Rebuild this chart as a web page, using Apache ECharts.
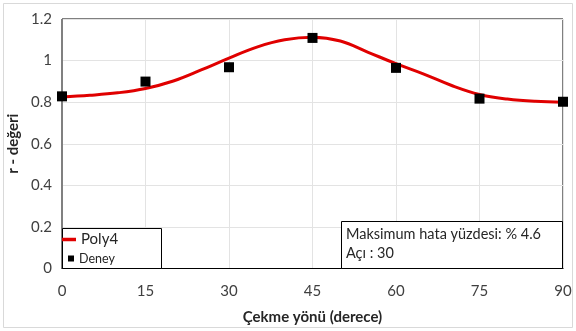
<!DOCTYPE html>
<html>
<head>
<meta charset="utf-8">
<script src="https://cdn.jsdelivr.net/npm/echarts@6/dist/echarts.min.js"></script>
<style>
  html, body { margin: 0; padding: 0; background: #fff; }
  #chart { width: 576px; height: 331px; }
</style>
</head>
<body>
<div id="chart"></div>
<script>
// Measured r-values for each pulling direction (degrees)
const angles = [0, 15, 30, 45, 60, 75, 90];
const deneyValues = [0.828, 0.899, 0.968, 1.109, 0.965, 0.817, 0.802];

// 4th-order fitted curve, sampled every 5 degrees
const fitAngles = [0, 5, 10, 15, 20, 25, 30, 35, 40, 45, 50, 55, 60, 65, 70, 75, 80, 85, 90];
const fitValues = [0.825, 0.833, 0.845, 0.866, 0.902, 0.955, 1.012, 1.065, 1.100, 1.112,
                   1.094, 1.040, 0.985, 0.935, 0.880, 0.837, 0.815, 0.804, 0.800];

const xTicks = { min: 0, max: 90, interval: 15 };
const yTicks = { min: 0, max: 1.2, interval: 0.2 };

const annotationLines = ['Maksimum hata yüzdesi: % 4.6', 'Açı : 30'];

const FONT = 'Lato, "Open Sans", sans-serif';

const chart = echarts.init(document.getElementById('chart'), null, { renderer: 'canvas' });

chart.setOption({
  animation: false,
  backgroundColor: '#ffffff',
  grid: {
    left: 62, right: 13, top: 19, bottom: 62.5,
    containLabel: false, outerBoundsMode: 'none',
    show: true, borderColor: '#000', borderWidth: 1, backgroundColor: 'transparent'
  },
  xAxis: {
    type: 'value',
    min: xTicks.min, max: xTicks.max, interval: xTicks.interval,
    name: 'Çekme yönü (derece)',
    nameLocation: 'middle',
    nameGap: 41,
    nameTextStyle: { fontFamily: FONT, fontSize: 15, fontWeight: 'bold', color: '#262626' },
    axisLine: { show: true, lineStyle: { color: '#000', width: 1 } },
    axisTick: { show: false },
    axisLabel: { fontFamily: FONT, fontSize: 15, color: '#404040', margin: 15 },
    splitLine: { show: true, lineStyle: { color: '#e3e3e3', width: 1 } }
  },
  yAxis: {
    type: 'value',
    min: yTicks.min, max: yTicks.max, interval: yTicks.interval,
    name: 'r - değeri',
    nameLocation: 'middle',
    nameGap: 35,
    nameTextStyle: { fontFamily: FONT, fontSize: 15, fontWeight: 'bold', color: '#262626' },
    axisLine: { show: true, lineStyle: { color: '#808080', width: 1 } },
    axisTick: { show: false },
    axisLabel: { fontFamily: FONT, fontSize: 15, color: '#404040', margin: 10 },
    splitLine: { show: true, lineStyle: { color: '#e3e3e3', width: 1 } }
  },
  legend: [
    {
      selectedMode: false,
      data: [{ name: 'Poly4', icon: 'rect' }],
      left: 62, top: 232, padding: 0,
      itemWidth: 14, itemHeight: 3.5, itemGap: 0,
      textStyle: { fontFamily: FONT, fontSize: 15, color: '#262626' },
      z: 10
    },
    {
      selectedMode: false,
      data: [{ name: 'Deney', icon: 'rect' }],
      left: 68, top: 252, padding: 0,
      itemWidth: 6, itemHeight: 6, itemGap: 0,
      textStyle: { fontFamily: FONT, fontSize: 12.5, color: '#262626' },
      z: 10
    }
  ],
  graphic: [
    // outer frame
    { type: 'rect', shape: { x: 3.5, y: 3.5, width: 569, height: 324 },
      style: { fill: 'none', stroke: '#d9d9d9', lineWidth: 1 }, z: 1, silent: true },
    // legend frame
    { type: 'rect', shape: { x: 62.5, y: 228.5, width: 99, height: 40 },
      style: { fill: '#fff', stroke: '#000', lineWidth: 1 }, z: 5, silent: true },
    // annotation frame
    { type: 'rect', shape: { x: 341.5, y: 221.5, width: 221, height: 47 },
      style: { fill: '#fff', stroke: '#000', lineWidth: 1 }, z: 5, silent: true },
    { type: 'text', left: 346, top: 227, z: 6, silent: true,
      style: { text: annotationLines[0], font: '14.5px ' + FONT, fill: '#262626' } },
    { type: 'text', left: 346, top: 246, z: 6, silent: true,
      style: { text: annotationLines[1], font: '14.5px ' + FONT, fill: '#262626' } }
  ],
  series: [
    {
      name: 'Poly4',
      type: 'line',
      data: fitAngles.map((a, i) => [a, fitValues[i]]),
      smooth: 0.4,
      showSymbol: false,
      symbol: 'none',
      lineStyle: { color: '#e00000', width: 3 },
      itemStyle: { color: '#e00000' },
      z: 2
    },
    {
      name: 'Deney',
      type: 'scatter',
      data: angles.map((a, i) => [a, deneyValues[i]]),
      symbol: 'rect',
      symbolSize: 10,
      itemStyle: { color: '#000', opacity: 1 },
      z: 3
    }
  ]
});
</script>
</body>
</html>
